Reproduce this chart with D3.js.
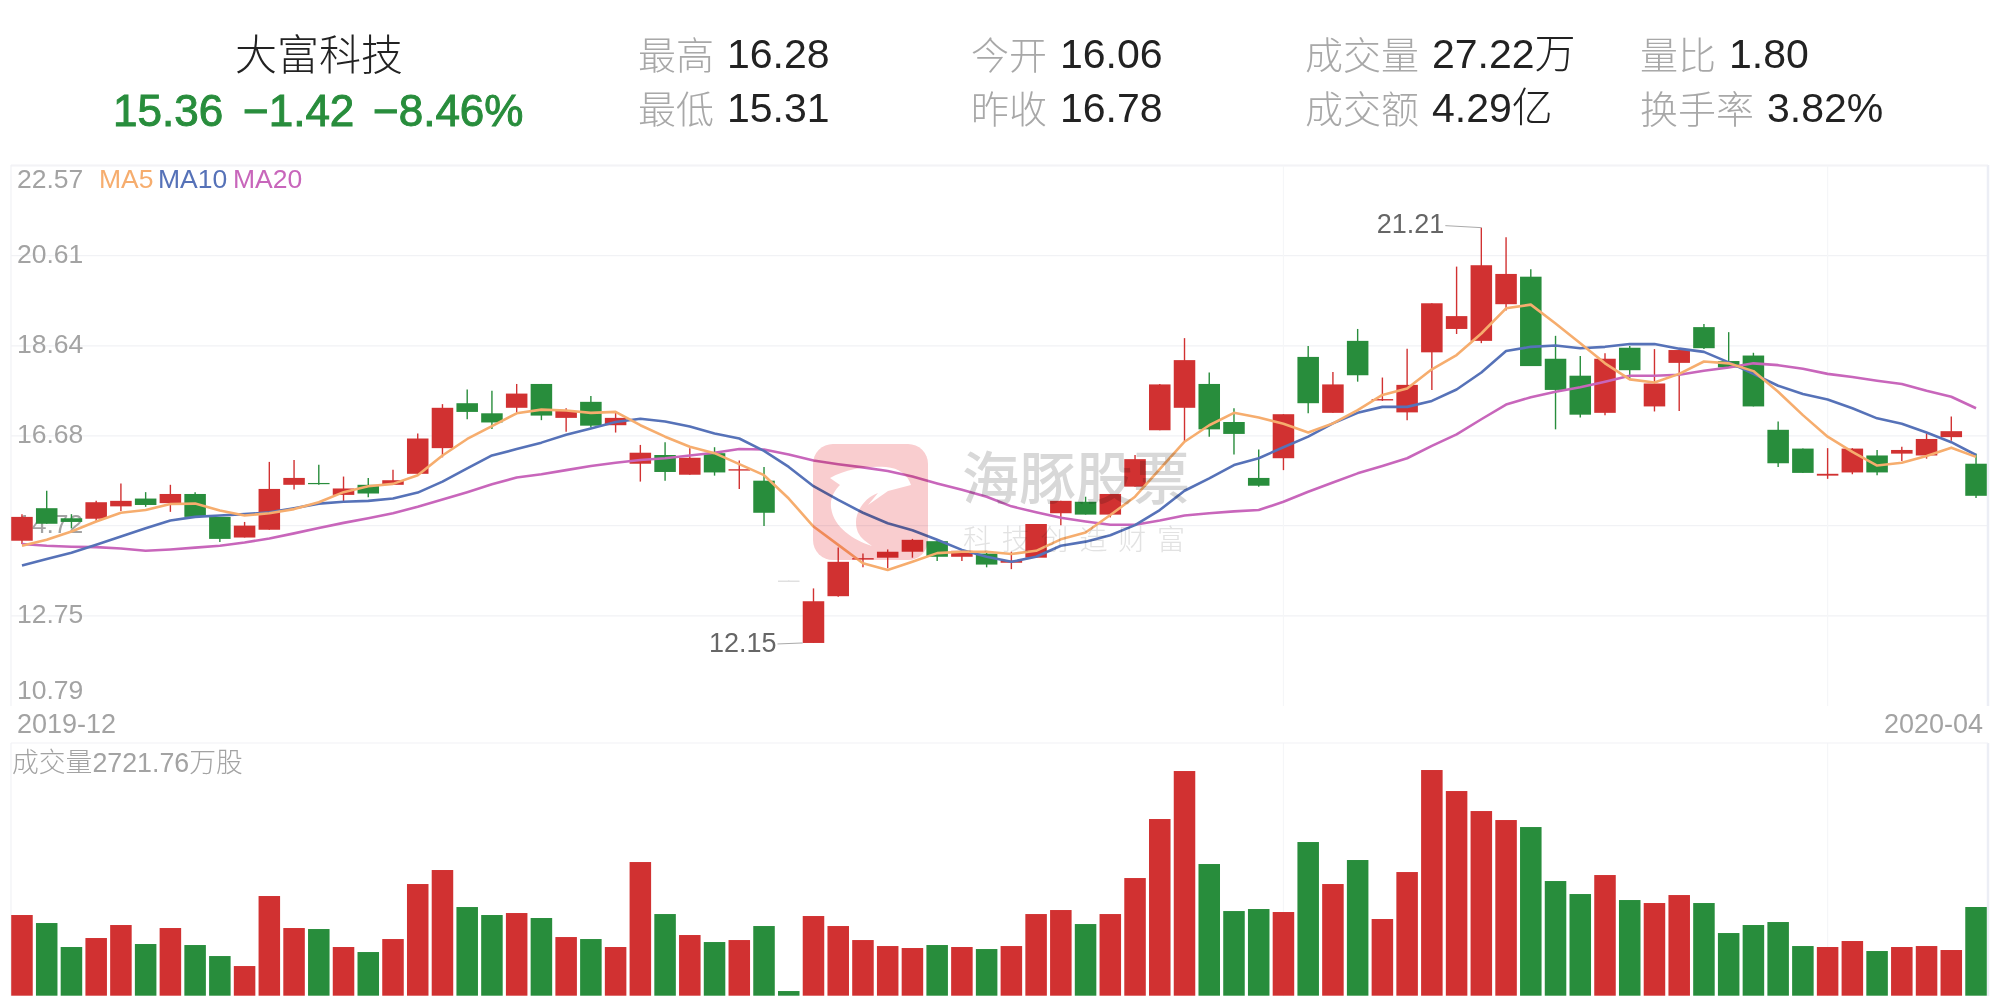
<!DOCTYPE html>
<html>
<head>
<meta charset="utf-8">
<style>
  html, body { margin: 0; padding: 0; background: #fff; }
  svg { display: block; }
  text { font-family: "Liberation Sans", "Noto Sans CJK SC", sans-serif; }
</style>
<script src="https://cdn.jsdelivr.net/npm/d3@7"></script>
</head>
<body>
<div id="chart"></div>
<script>
// candle data
var open_ = [14.38,15.09,14.87,14.86,15.13,15.30,15.20,15.40,14.90,14.45,14.62,15.60,15.64,15.38,15.60,15.60,15.84,16.40,17.38,17.16,
  17.28,17.80,17.06,17.41,16.90,16.06,16.25,15.82,16.29,15.91,15.69,13.51,12.15,13.17,13.97,14.01,14.14,14.37,14.03,14.10,
  13.90,14.01,14.98,15.23,14.95,15.56,16.79,17.28,17.80,16.97,15.75,16.18,18.39,17.17,18.74,17.44,17.18,18.49,19.00,18.74,
  19.54,20.14,18.35,17.98,17.17,18.59,17.31,18.26,19.04,18.30,18.42,16.80,16.39,15.80,15.87,16.24,16.28,16.24,16.64,16.06];
var close_ = [14.90,14.75,14.79,15.22,15.25,15.16,15.40,14.90,14.42,14.71,15.51,15.75,15.62,15.52,15.41,15.70,16.61,17.28,17.19,16.96,
  17.59,17.11,17.21,16.89,17.06,16.30,15.88,16.19,15.87,15.94,14.99,13.50,13.06,13.92,14.00,14.14,14.40,14.03,14.16,13.86,
  13.945,14.745,15.25,14.95,15.40,16.16,17.79,18.32,16.81,16.71,15.58,17.14,17.38,17.79,17.99,17.47,17.78,19.56,19.28,20.39,
  20.20,18.19,17.67,17.13,18.35,18.10,17.81,18.54,18.58,18.16,17.31,16.07,15.86,15.84,16.39,15.87,16.36,16.60,16.77,15.36];
var high_ = [14.96,15.47,14.96,15.25,15.63,15.44,15.60,15.44,14.90,14.79,16.10,16.14,16.04,15.78,15.75,15.93,16.72,17.36,17.68,17.65,
  17.80,17.80,17.27,17.54,17.18,16.47,16.53,16.40,16.42,16.13,15.99,13.51,13.34,14.23,14.10,14.19,14.42,14.40,14.19,14.16,
  14.14,14.745,15.25,15.34,15.40,16.25,17.80,18.80,18.05,17.27,16.37,17.14,18.63,18.06,19.00,17.94,18.57,19.56,20.36,21.21,
  21.00,20.30,18.85,18.41,18.47,18.63,18.56,18.54,19.11,18.93,18.48,16.98,16.39,16.40,16.40,16.36,16.43,16.72,17.09,16.28];
var low_ = [14.31,14.75,14.65,14.80,15.03,15.12,15.01,14.90,14.35,14.45,14.62,15.50,15.60,15.23,15.33,15.60,15.84,16.20,17.03,16.82,
  17.17,17.01,16.76,16.85,16.74,15.67,15.69,15.82,15.80,15.51,14.70,13.50,12.15,13.16,13.80,13.78,14.01,13.94,13.94,13.80,
  13.76,14.01,14.72,14.95,14.89,15.56,16.79,16.55,16.65,16.26,15.56,15.92,17.16,17.17,17.85,17.43,17.01,17.67,18.89,18.69,
  19.40,18.19,16.81,17.07,17.12,17.90,17.20,17.21,18.56,18.16,17.31,15.99,15.86,15.73,15.83,15.81,16.12,16.17,16.56,15.31];

var ma5 = [14.27,14.40,14.58,14.80,14.99,15.05,15.18,15.19,15.04,14.93,14.98,15.07,15.22,15.44,15.57,15.62,15.81,16.24,16.60,16.88,
  17.16,17.24,17.22,17.17,17.19,16.90,16.65,16.43,16.29,16.05,15.81,15.30,14.69,14.29,13.89,13.74,13.92,14.11,14.14,14.14,
  14.09,14.16,14.41,14.56,14.94,15.34,15.94,16.54,16.90,17.17,17.07,16.93,16.74,16.94,17.23,17.56,17.70,18.12,18.43,18.90,
  19.45,19.53,19.12,18.69,18.25,17.90,17.83,18.02,18.29,18.25,18.08,17.63,17.12,16.65,16.32,16.02,16.08,16.23,16.41,16.21];
var ma10 = [13.84,13.98,14.12,14.29,14.47,14.65,14.82,14.90,14.93,14.96,15.00,15.09,15.19,15.23,15.25,15.30,15.43,15.67,15.96,16.24,
  16.38,16.52,16.69,16.83,16.97,17.04,16.98,16.87,16.72,16.61,16.34,15.99,15.57,15.27,14.99,14.76,14.61,14.40,14.18,14.03,
  13.92,14.03,14.27,14.36,14.50,14.72,15.05,15.47,15.74,16.03,16.18,16.42,16.65,16.94,17.17,17.30,17.30,17.43,17.68,18.05,
  18.52,18.61,18.64,18.58,18.61,18.67,18.67,18.57,18.50,18.27,18.02,17.76,17.58,17.46,17.27,17.05,16.93,16.74,16.53,16.25];
var ma20 = [14.31,14.27,14.25,14.24,14.21,14.16,14.19,14.23,14.27,14.34,14.43,14.54,14.66,14.77,14.87,14.98,15.12,15.28,15.44,15.61,
  15.76,15.83,15.92,16.01,16.08,16.14,16.18,16.24,16.30,16.38,16.37,16.26,16.13,16.05,15.98,15.90,15.78,15.63,15.49,15.34,
  15.13,15.00,14.88,14.80,14.73,14.73,14.82,14.93,14.98,15.02,15.05,15.23,15.45,15.65,15.85,16.01,16.18,16.45,16.70,17.03,
  17.35,17.51,17.63,17.73,17.85,17.98,17.98,18.00,18.09,18.16,18.25,18.21,18.13,18.02,17.95,17.87,17.80,17.65,17.52,17.27];

// volume in 万股
var volume = [2476,2230,1494,1770,2169,1586,2077,1555,1217,910,3059,2077,2046,1494,1340,1739,3427,3857,2721,2476,
  2537,2384,1800,1739,1494,4102,2506,1862,1647,1708,2138,143,2445,2138,1708,1524,1463,1555,1494,1432,
  1524,2506,2629,2199,2506,3611,5422,6895,4041,2598,2660,2568,4716,3427,4164,2353,3795,6926,6281,5667,
  5391,5176,3519,3120,3703,2936,2844,3089,2844,1923,2169,2261,1524,1494,1678,1371,1494,1524,1402,2722];

var priceTicks = ["22.57","20.61","18.64","16.68","14.72","12.75","10.79"];
var monthLines = [51, 73];           // candles where a new month starts
var timeLabels = ["2019-12", "2020-04"];
var extremes = [{i: 59, label: "21.21", key: "high"}, {i: 32, label: "12.15", key: "low"}];
var maNames = ["MA5", "MA10", "MA20"];
var maColors = ["#f6ad6e", "#5672b8", "#c866bb"];

// header
var stockName = "大富科技";
var quote = ["15.36", "−1.42", "−8.46%"];
var statLabels = ["最高","最低","今开","昨收","成交量","成交额","量比","换手率"];
var statValues = ["16.28","15.31","16.06","16.78","27.22万","4.29亿","1.80","3.82%"];

var red = "#d13131", green = "#288d3c", gray = "#a3a3a3";
var W = 2001, H = 999;
var left = 11, right = 1988;

var svg = d3.select("#chart").append("svg").attr("width", W).attr("height", H);

// header text
svg.append("text").attr("x", 319).attr("y", 70).attr("text-anchor", "middle")
  .attr("font-size", 42).attr("font-weight", 300).attr("fill", "#222").text(stockName);

var quoteX = [113, 243, 373];
svg.selectAll(".quote").data(quote).enter().append("text")
  .attr("class", "quote")
  .attr("x", function(d, i) { return quoteX[i]; })
  .attr("y", 126)
  .attr("font-size", 44)
  .attr("fill", green).attr("stroke", green).attr("stroke-width", 1)
  .text(function(d) { return d; });

var labelX = [638, 638, 971, 971, 1305, 1305, 1640, 1640];
var valueX = [727, 727, 1060, 1060, 1432, 1432, 1729, 1767];
var rowY = [68, 122];
statLabels.forEach(function(d, i) {
  var y = rowY[i % 2];
  svg.append("text").attr("x", labelX[i]).attr("y", y + 1).attr("font-size", 38)
    .attr("font-weight", 300).attr("fill", "#a8a8a8").text(d);
  svg.append("text").attr("x", valueX[i]).attr("y", y).attr("font-size", 41)
    .attr("font-weight", 300).attr("fill", "#222").text(statValues[i]);
});

// scales
var x = d3.scaleBand().domain(d3.range(volume.length)).range([8, 1990]).padding(0.13);
var y = d3.scaleLinear().domain([10.79, 22.57]).range([705.3, 165.3]);
var yVol = d3.scaleLinear().domain([0, 7746]).range([995.7, 743.3]);
function cx(i) { return x(i) + x.bandwidth() / 2; }

// price grid, tick labels come from the axis
var axis = svg.append("g")
  .attr("transform", "translate(" + left + ",0)")
  .call(d3.axisRight(y).tickValues(priceTicks.map(Number)).tickSize(right - left).tickFormat(d3.format(".2f")));
axis.select(".domain").remove();
axis.selectAll(".tick line").attr("stroke", "#f1f2f5").attr("stroke-width", 1.2);
axis.selectAll(".tick").filter(function(d) { return d === 10.79; }).select("line").remove();
axis.selectAll(".tick text")
  .attr("x", 6).attr("dy", null)
  .attr("y", function(d) { return d === 22.57 ? 22 : (d === 10.79 ? -7 : 7); })
  .attr("font-size", 26.5).attr("fill", gray)
  .style("font-family", '"Liberation Sans", sans-serif');

// frame
var panels = [[165, 706], [743, 996]];
panels.forEach(function(p) {
  [left, right].forEach(function(px) {
    svg.append("line").attr("x1", px).attr("x2", px).attr("y1", p[0]).attr("y2", p[1])
      .attr("stroke", px === left ? "#f1f2f5" : "#eceef5").attr("stroke-width", px === left ? 1.2 : 2.5);
  });
  monthLines.forEach(function(i) {
    svg.append("line").attr("x1", cx(i)).attr("x2", cx(i)).attr("y1", p[0]).attr("y2", p[1])
      .attr("stroke", "#f5f6f8").attr("stroke-width", 1.2);
  });
  svg.append("line").attr("x1", left).attr("x2", right).attr("y1", p[0]).attr("y2", p[0])
    .attr("stroke", "#f1f2f5").attr("stroke-width", 1.2);
});

// legend
var legendX = [99, 158, 233];
maNames.forEach(function(d, i) {
  svg.append("text").attr("x", legendX[i]).attr("y", 188).attr("font-size", 26.5)
    .attr("fill", maColors[i]).text(d);
});

// time labels
svg.append("text").attr("x", 17).attr("y", 733).attr("font-size", 27).attr("fill", gray).text(timeLabels[0]);
svg.append("text").attr("x", 1983).attr("y", 733).attr("text-anchor", "end").attr("font-size", 27).attr("fill", gray).text(timeLabels[1]);
svg.append("text").attr("x", 12).attr("y", 772).attr("font-size", 26.8).attr("font-weight", 300).attr("fill", gray)
  .text("成交量2721.76万股");

// candles
function candleColor(i) {
  if (high_[i] - low_[i] < 0.02) return "#d9d9d9";
  return close_[i] < open_[i] ? green : red;
}
var idx = d3.range(volume.length);
svg.append("g").selectAll("line").data(idx).enter().append("line")
  .attr("x1", cx).attr("x2", cx)
  .attr("y1", function(i) { return y(high_[i]); })
  .attr("y2", function(i) { return y(low_[i]); })
  .attr("stroke", candleColor).attr("stroke-width", 1.4);
svg.append("g").selectAll("rect").data(idx).enter().append("rect")
  .attr("x", function(i) { return x(i); })
  .attr("width", x.bandwidth())
  .attr("y", function(i) { return y(Math.max(open_[i], close_[i])); })
  .attr("height", function(i) { return Math.max(1.2, Math.abs(y(open_[i]) - y(close_[i]))); })
  .attr("fill", candleColor);

// moving averages
var line = d3.line().x(function(d, i) { return cx(i); }).y(function(d) { return y(d); });
[ma20, ma10, ma5].forEach(function(s, k) {
  svg.append("path").datum(s).attr("d", line).attr("fill", "none")
    .attr("stroke", maColors[2 - k]).attr("stroke-width", 2.6).attr("stroke-linejoin", "round");
});

// high and low labels
extremes.forEach(function(e) {
  var isHigh = e.key === "high";
  var py = y(isHigh ? high_[e.i] : low_[e.i]);
  var tx = cx(e.i) - 37;
  svg.append("text").attr("x", tx).attr("y", isHigh ? py + 5 : py + 9).attr("text-anchor", "end")
    .attr("font-size", 27).attr("fill", "#666").text(e.label);
  svg.append("line").attr("x1", tx + 1).attr("x2", isHigh ? cx(e.i) : x(e.i))
    .attr("y1", isHigh ? py - 2 : py + 1).attr("y2", py)
    .attr("stroke", "#aaa").attr("stroke-width", 1);
});

// volume bars
svg.append("g").selectAll("rect").data(idx).enter().append("rect")
  .attr("x", function(i) { return x(i); })
  .attr("width", x.bandwidth())
  .attr("y", function(i) { return yVol(volume[i]); })
  .attr("height", function(i) { return yVol(0) - yVol(volume[i]); })
  .attr("fill", function(i) { return close_[i] < open_[i] ? green : red; });

// watermark sits over the chart
var mark = svg.append("g").style("mix-blend-mode", "multiply");
mark.append("rect").attr("x", 813).attr("y", 444).attr("width", 115).attr("height", 116).attr("rx", 20)
  .attr("fill", "#f9cdcf");
mark.append("path")
  .attr("d", "M830 478 C848 468 868 466 886 467 C899 468 908 475 911 485 L888 491 L868 505 L878 493 C866 497 856 510 856 522 C856 537 866 541 872 546 C853 540 833 527 831 507 C830 497 835 490 840 485 Z")
  .attr("fill", "#fff");
mark.append("text").attr("x", 962).attr("y", 499).attr("font-size", 57).attr("font-weight", 500)
  .attr("fill", "#d8d8d8").text("海豚股票");
mark.append("text").attr("x", 963).attr("y", 550).attr("font-size", 28).attr("letter-spacing", 10.8)
  .attr("font-weight", 300).attr("fill", "#e2e2e2").text("科技创造财富");
</script>
</body>
</html>
